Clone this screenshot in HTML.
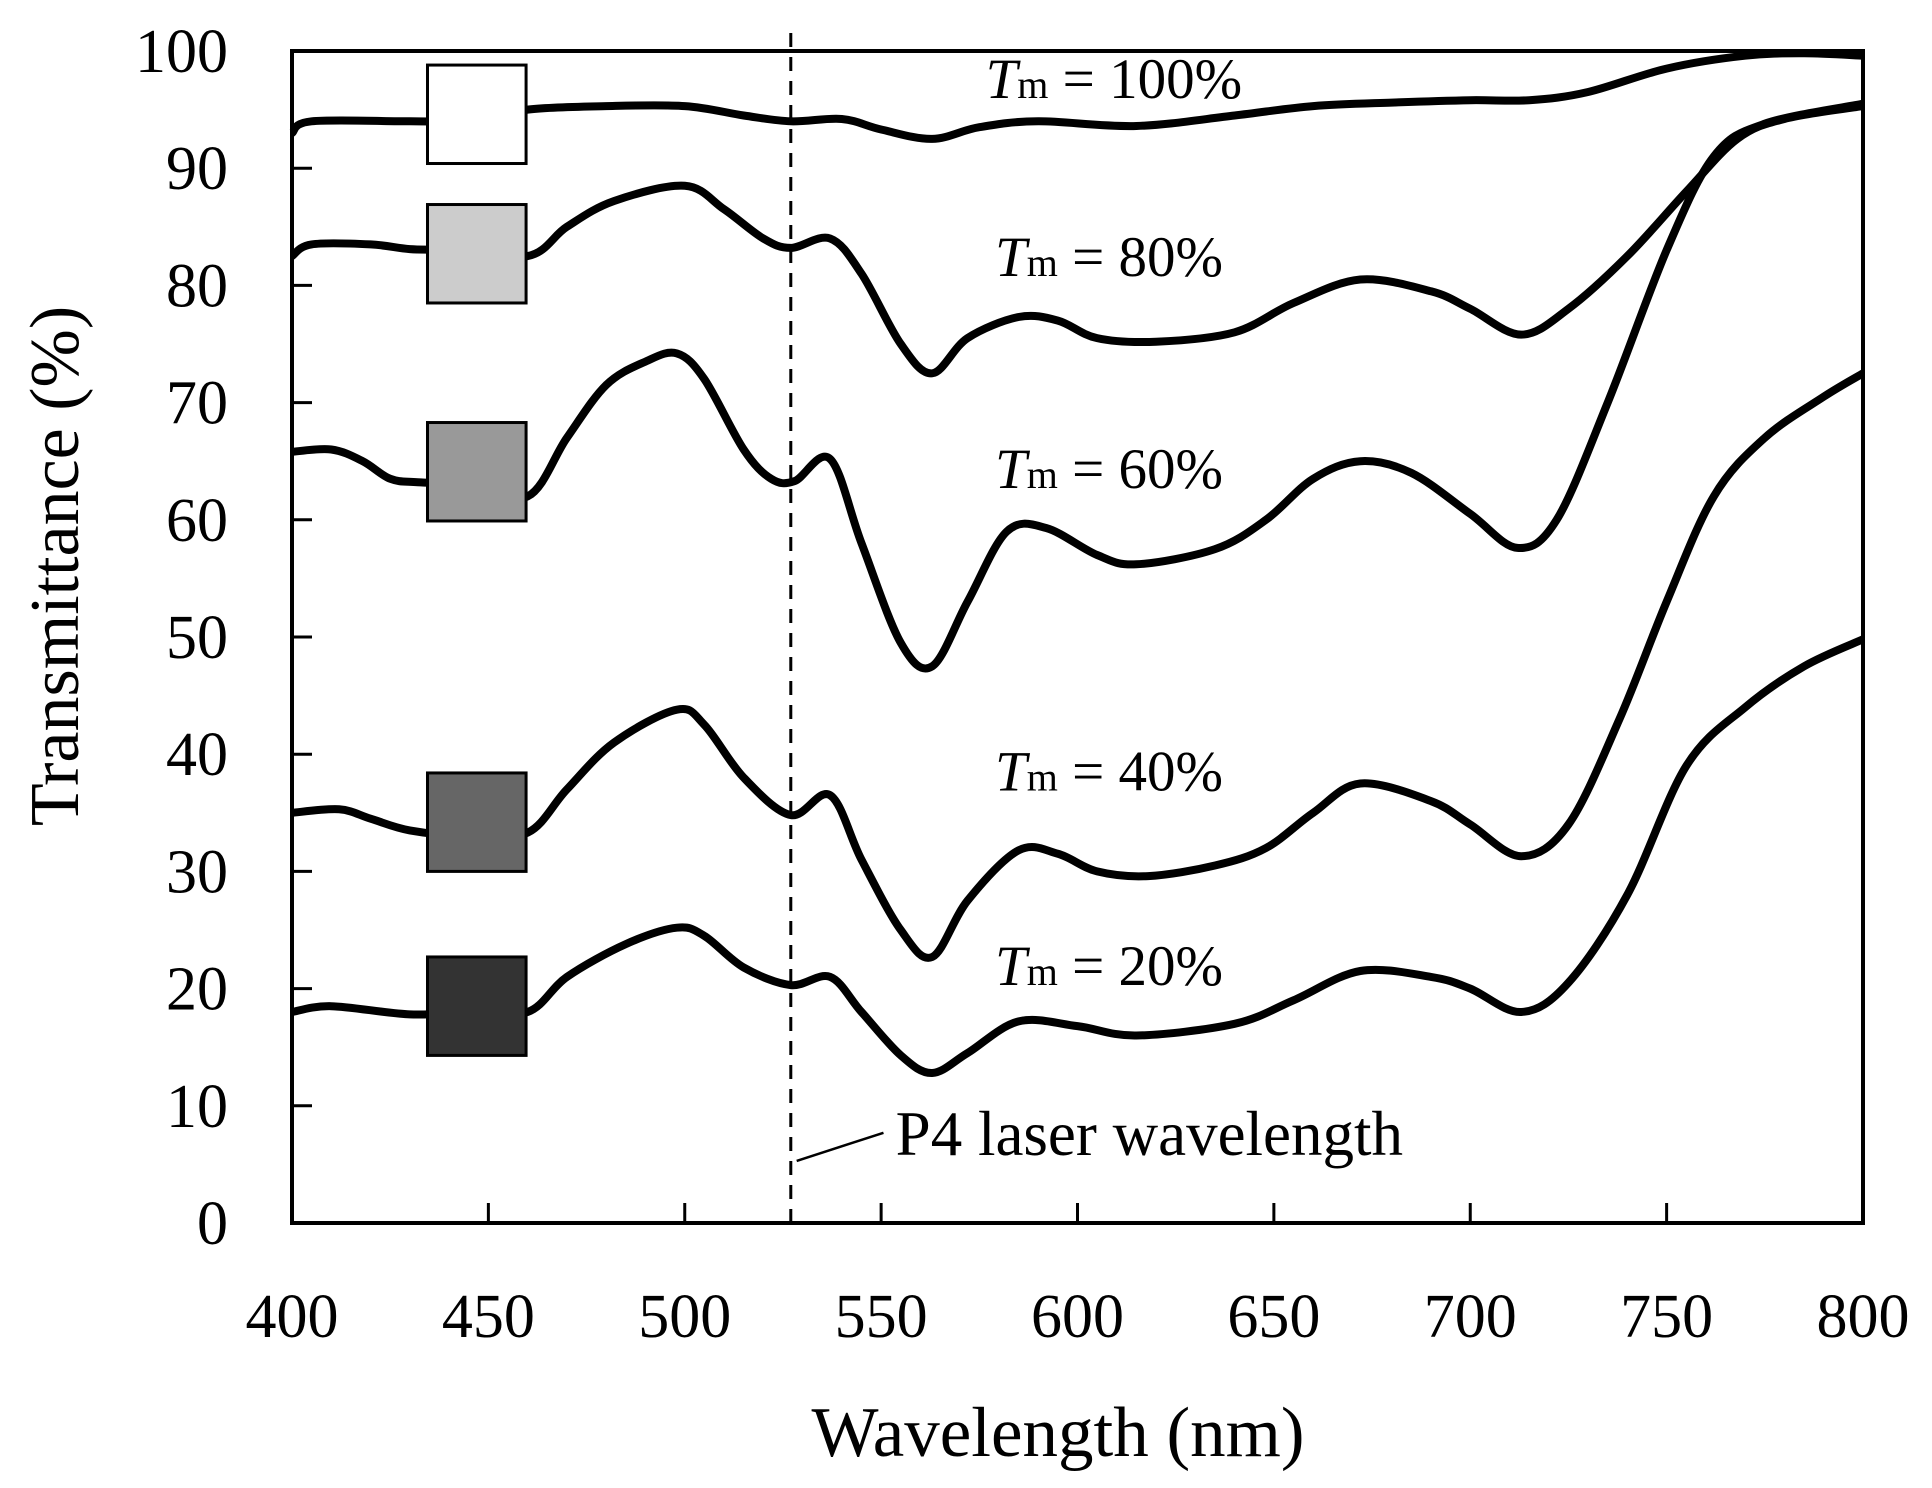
<!DOCTYPE html>
<html><head><meta charset="utf-8">
<style>
html,body{margin:0;padding:0;background:#fff;}
svg{display:block;font-family:"Liberation Serif",serif;}
</style></head>
<body>
<svg id="chart" width="1932" height="1488" viewBox="0 0 1932 1488" xmlns="http://www.w3.org/2000/svg">
<g id="series"></g>
<g id="axes"></g>
<g id="labels"></g>
</svg>
<script>
const xTicks=[400,450,500,550,600,650,700,750,800];
const yTicks=[0,10,20,30,40,50,60,70,80,90,100];
const s100wl=[400,405,430,450,460,480,500,515,527,540,550,563,575,590,615,640,660,680,700,715,730,750,770,785,800];
const s100T=[93,94,94,94,95,95.3,95.3,94.5,94,94.2,93.3,92.5,93.5,94,93.6,94.5,95.3,95.6,95.8,95.8,96.5,98.5,99.6,99.8,99.6];
const s80wl=[400,405,420,430,440,460,470,482,500,510,520,527,537,545,555,563,572,585,595,605,620,640,655,672,690,700,713,725,740,755,768,780,800];
const s80T=[82.5,83.5,83.5,83.1,83,82.5,85,87.2,88.5,86.5,84,83.2,84,81,75,72.5,75.5,77.3,77,75.5,75.2,76,78.5,80.5,79.5,78,75.8,78,82.5,88,92.5,94.2,95.3];
const s60wl=[400,410,418,425,432,445,460,470,480,490,498,505,515,522,528,537,545,555,563,572,582,592,605,615,635,648,660,672,685,700,712,722,735,750,762,775,800];
const s60T=[65.8,66,65,63.5,63.2,63,62,67,71.5,73.5,74.2,72,66,63.5,63.3,65.2,58,49.5,47.5,53,59,59.3,57,56.2,57.5,60,63.5,65,64,60.5,57.6,60,70,83,91,93.8,95.5];
const s40wl=[400,412,420,430,445,460,470,482,498,505,515,527,537,545,555,563,572,585,595,605,618,635,648,660,672,690,700,713,725,738,750,762,775,790,800];
const s40T=[35,35.3,34.5,33.5,33,33.3,37,41,43.8,42.5,38,34.8,36.5,31,25,22.7,27.5,31.8,31.5,30,29.6,30.5,32,35,37.5,36,34,31.3,34,43,53,62,67,70.5,72.5];
const s20wl=[400,410,430,445,460,470,485,498,505,515,527,537,545,555,563,572,585,600,615,640,655,672,690,700,713,725,740,755,770,785,800];
const s20T=[18,18.5,17.8,18,18,21,23.8,25.2,24.5,21.8,20.3,21,18,14.3,12.8,14.5,17.2,16.8,16,17,19,21.5,21,20,18,20.5,28,39,44,47.5,49.8];
const seriesNames=["tm-100","tm-80","tm-60","tm-40","tm-20"];
const seriesWl=[s100wl,s80wl,s60wl,s40wl,s20wl];
const seriesT=[s100T,s80T,s60T,s40T,s20T];
const swatchTop=[98.8,86.9,68.3,38.4,22.7];
const swatchFill=["#ffffff","#cccccc","#999999","#666666","#333333"];
const labelTexts=["100%","80%","60%","40%","20%"];
const labelWl=[576.6,579,579,579,579];
const labelT=[96,80.8,62.7,36.9,20.3];
const laserWl=527;

const L=292,R=1863,T0=51,B=1223;
const xs=w=>L+(w-400)/400*(R-L);
const ys=t=>B-t/100*(B-T0);
const NS="http://www.w3.org/2000/svg";
function mk(tag,attrs,parent){const e=document.createElementNS(NS,tag);for(const k in attrs)e.setAttribute(k,attrs[k]);parent.appendChild(e);return e;}
const gS=document.getElementById('series'),gA=document.getElementById('axes'),gL=document.getElementById('labels');

function smooth(pts){let d=`M${pts[0][0]},${pts[0][1]}`;for(let i=0;i<pts.length-1;i++){const p0=pts[Math.max(0,i-1)],p1=pts[i],p2=pts[i+1],p3=pts[Math.min(pts.length-1,i+2)];const c1x=p1[0]+(p2[0]-p0[0])/6,c1y=p1[1]+(p2[1]-p0[1])/6,c2x=p2[0]-(p3[0]-p1[0])/6,c2y=p2[1]-(p3[1]-p1[1])/6;d+=` C${c1x.toFixed(1)},${c1y.toFixed(1)} ${c2x.toFixed(1)},${c2y.toFixed(1)} ${p2[0].toFixed(1)},${p2[1].toFixed(1)}`;}return d;}

for(let i=0;i<seriesWl.length;i++){
  const pts=seriesWl[i].map((w,j)=>[xs(w),ys(seriesT[i][j])]);
  const p=mk('path',{d:smooth(pts),fill:'none',stroke:'#000','stroke-width':8,'stroke-linejoin':'round'},gS);
  
  
}
for(let i=0;i<swatchTop.length;i++){
  const r=mk('rect',{x:xs(434.5),y:ys(swatchTop[i]),width:xs(459.6)-xs(434.5),height:ys(0)-ys(8.4),fill:swatchFill[i],stroke:'#000','stroke-width':3},gS);
  
  
}
const ll=mk('line',{x1:xs(laserWl),x2:xs(laserWl),y1:33,y2:B,stroke:'#000','stroke-width':3,'stroke-dasharray':'14,10'},gS);


const lead=mk('line',{x1:xs(528.5),y1:ys(5.3),x2:xs(550.6),y2:ys(7.7),stroke:'#000','stroke-width':2.5},gS);



const fr=mk('rect',{x:L,y:T0,width:R-L,height:B-T0,fill:'none',stroke:'#000','stroke-width':4},gA);


xTicks.forEach(v=>{
  const t=mk('line',{x1:xs(v),x2:xs(v),y1:B,y2:B-20,stroke:'#000','stroke-width':3},gA);
  
  
  const tx=mk('text',{x:xs(v),y:B+114,'font-size':62,'text-anchor':'middle'},gA);tx.textContent=v;
  
  
});
yTicks.forEach(v=>{
  const t=mk('line',{x1:L,x2:L+20,y1:ys(v),y2:ys(v),stroke:'#000','stroke-width':3},gA);
  
  
  const tx=mk('text',{x:228,y:ys(v)+21,'font-size':62,'text-anchor':'end'},gA);tx.textContent=v;
  
  
});
const xt=mk('text',{x:1058,y:1456,'font-size':71,'text-anchor':'middle'},gA);xt.textContent='Wavelength (nm)';


const yt=mk('text',{x:0,y:0,'font-size':70,'text-anchor':'middle',transform:`translate(78,566) rotate(-90)`},gA);yt.textContent='Transmittance (%)';



for(let i=0;i<labelTexts.length;i++){
  const t=mk('text',{x:xs(labelWl[i]),y:ys(labelT[i]),'font-size':57},gL);
  
  
  const a=mk('tspan',{'font-style':'italic'},t);a.textContent='T';
  const b=mk('tspan',{'font-size':40},t);b.textContent='m';
  const c=mk('tspan',{},t);c.textContent=' = '+labelTexts[i];
}
const lt=mk('text',{x:xs(553.7),y:ys(5.8),'font-size':63},gL);lt.textContent='P4 laser wavelength';


</script>
</body></html>
